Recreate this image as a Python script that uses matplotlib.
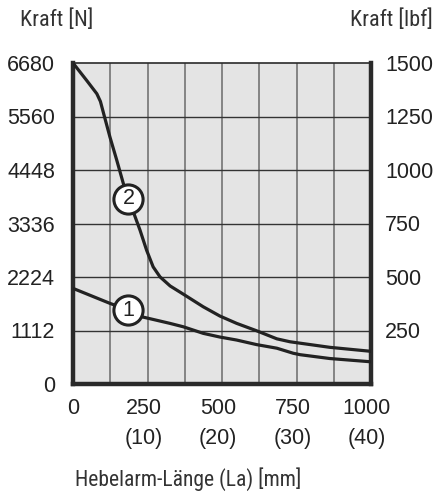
import matplotlib.pyplot as plt
import matplotlib.transforms as mtransforms
import numpy as np

# Hebelarm-Länge [mm] und Kraft [N]
curve2_x = [0, 46, 80, 92, 104, 124, 147, 169, 186, 225, 247, 269, 292, 326, 370, 437,
            493, 549, 616, 684, 728, 751, 862, 1000]
curve2_y = [6680, 6316, 6040, 5880, 5600, 5139, 4654, 4170, 3860, 3200, 2784, 2437, 2229,
            2040, 1870, 1607, 1414, 1262, 1108, 940, 879, 859, 763, 680]
curve1_x = [0, 124, 186, 230, 325, 370, 437, 493, 549, 616, 684, 739, 762, 862, 1000]
curve1_y = [1990, 1678, 1538, 1400, 1262, 1191, 1054, 977, 915, 820, 745, 640, 610, 530, 462]

label_pos = {'2': (186, 3860), '1': (186, 1538)}

n_ticks = [0, 1112, 2224, 3336, 4448, 5560, 6680]
lbf_ticks = [250, 500, 750, 1000, 1250, 1500]
x_ticks = [0, 250, 500, 750, 1000]
x_labels = ['0', '250\n(10)', '500\n(20)', '750\n(30)', '1000\n(40)']

plt.rcParams['font.family'] = ['Liberation Sans', 'DejaVu Sans']
narrow = ['Roboto Condensed', 'DejaVu Sans']

fig = plt.figure(figsize=(4.37, 4.92), dpi=100)
ax = fig.add_axes([73 / 437, 1 - 384 / 492, 298 / 437, 321 / 492])
ax.set_facecolor('#e4e4e4')

ax.set_xlim(0, 1000)
ax.set_ylim(0, 6680)

# Gitter
for gx in np.arange(125, 1000, 125):
    ax.axvline(gx, color='#6a6a6a', lw=1.1, zorder=1)
for i in range(1, 6):
    ax.axhline(6680 * i / 6, color='#333333', lw=1, zorder=1)

ax.plot(curve2_x, curve2_y, color='#222222', lw=2.3, zorder=3,
        solid_capstyle='round', solid_joinstyle='round')
ax.plot(curve1_x, curve1_y, color='#222222', lw=2.3, zorder=3,
        solid_capstyle='round', solid_joinstyle='round')

for txt, (lx, ly) in label_pos.items():
    ax.plot(lx, ly, 'o', ms=21, mfc='white', mec='#222222', mew=2.2, zorder=4)
    ax.text(lx, ly, txt, ha='center', va='center', fontsize=15.5, zorder=5,
            color='#222222')

ax.set_yticks([6680 * i / 6 for i in range(7)])
ax.set_yticklabels([str(v) for v in n_ticks])
ax.set_xticks(x_ticks)
ax.set_xticklabels(x_labels, multialignment='center', linespacing=1.55)
ax.tick_params(length=0, labelsize=15.5, colors='#222222')
ax.tick_params(axis='y', pad=13)
ax.tick_params(axis='x', pad=10)

shift = mtransforms.ScaledTranslation(-4 / 100, 0, fig.dpi_scale_trans)
for lab in ax.get_xticklabels()[1:]:
    lab.set_transform(lab.get_transform() + shift)

for side in ['left', 'right', 'bottom']:
    ax.spines[side].set_linewidth(3.2)
    ax.spines[side].set_color('#2a2a2a')
ax.spines['top'].set_linewidth(1.2)
ax.spines['top'].set_color('#2a2a2a')

ax2 = ax.twinx()
ax2.set_ylim(0, 1500)
ax2.set_yticks(lbf_ticks)
ax2.tick_params(length=0, labelsize=15.5, colors='#222222', pad=10)
for s in ax2.spines.values():
    s.set_visible(False)

fig.text(20 / 437, 1 - 20 / 492, 'Kraft [N]', ha='left', va='center',
         fontsize=16, family=narrow, color='#333333')
fig.text(433 / 437, 1 - 20 / 492, 'Kraft [lbf]', ha='right', va='center',
         fontsize=16, family=narrow, color='#333333')
fig.text(75 / 437, 1 - 479 / 492, 'Hebelarm-Länge (La) [mm]', ha='left', va='center',
         fontsize=15.5, family=narrow, color='#333333')

fig.savefig('out.png', dpi=100)
